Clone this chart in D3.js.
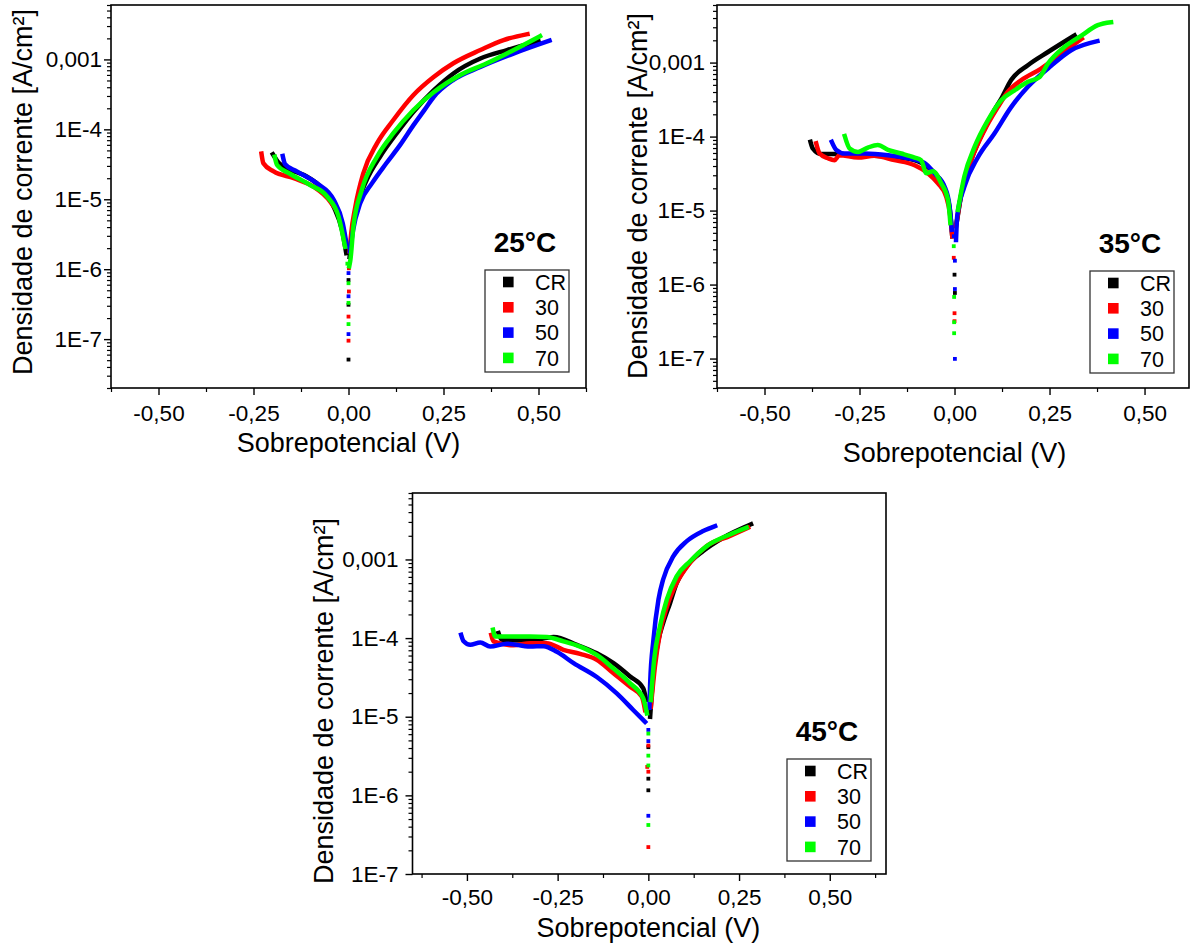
<!DOCTYPE html>
<html>
<head>
<meta charset="utf-8">
<script src="https://cdn.jsdelivr.net/npm/d3@7"></script>
<style>
  body { margin: 0; background: #fff; }
  svg { display: block; }
  text { font-family: "Liberation Sans", Arial, Helvetica, sans-serif; }
</style>
</head>
<body>
<script>
// series, colours and axis labels
const seriesNames = ["CR", "30", "50", "70"];
const seriesColors = ["#000000", "#ff0000", "#0000ff", "#00ff00"];
const temperatures = ["25°C", "35°C", "45°C"];
const xTickValues = [-0.5, -0.25, 0, 0.25, 0.5];
const xTickLabels = ["-0,50", "-0,25", "0,00", "0,25", "0,50"];
const xMinorValues = [-0.625, -0.375, -0.125, 0.125, 0.375, 0.625];
const yTickValues = [1e-3, 1e-4, 1e-5, 1e-6, 1e-7];
const yTickLabels = ["0,001", "1E-4", "1E-5", "1E-6", "1E-7"];

// 25°C : [sobrepotencial V, densidade A/cm2], one list per series (CR, 30, 50, 70)
const cath25 = [
  [[-0.199,4.4e-5],[-0.184,3.33e-5],[-0.153,2.65e-5],[-0.109,2.1e-5],[-0.074,1.51e-5],[-0.039,7.8e-6],[-0.017,3.6e-6],[-0.006,1.7e-6]],
  [[-0.229,4.5e-5],[-0.224,3.27e-5],[-0.197,2.5e-5],[-0.144,2.0e-5],[-0.092,1.51e-5],[-0.048,9.2e-6],[-0.017,4.5e-6],[-0.006,2.1e-6]],
  [[-0.173,4.16e-5],[-0.167,3.19e-5],[-0.136,2.5e-5],[-0.083,1.69e-5],[-0.039,9.8e-6],[-0.015,4.5e-6],[-0.004,2.1e-6]],
  [[-0.194,4.06e-5],[-0.188,3.09e-5],[-0.153,2.3e-5],[-0.101,1.6e-5],[-0.056,1.09e-5],[-0.026,5.6e-6],[-0.009,2.1e-6]]
];
const anod25 = [
  [[0.003,1.5e-6],[0.009,3.2e-6],[0.022,7.8e-6],[0.048,1.89e-5],[0.083,4.06e-5],[0.127,8.8e-5],[0.171,1.78e-4],[0.224,3.6e-4],[0.276,6.3e-4],[0.347,1.03e-3],[0.417,1.36e-3],[0.5,1.82e-3]],
  [[0.003,1.8e-6],[0.007,3.2e-6],[0.018,7.8e-6],[0.039,2.35e-5],[0.075,6.3e-5],[0.118,1.36e-4],[0.171,3.1e-4],[0.224,5.6e-4],[0.276,8.8e-4],[0.347,1.36e-3],[0.408,1.89e-3],[0.471,2.3e-3]],
  [[0.004,1.8e-6],[0.012,3.6e-6],[0.031,8.8e-6],[0.062,1.7e-5],[0.1,3.3e-5],[0.136,6.0e-5],[0.171,1.15e-4],[0.2,1.9e-4],[0.224,2.9e-4],[0.276,5.1e-4],[0.347,7.8e-4],[0.434,1.21e-3],[0.529,1.85e-3]],
  [[0.002,1.1e-6],[0.005,1.36e-6],[0.013,4.1e-6],[0.035,1.36e-5],[0.075,4.06e-5],[0.118,8.8e-5],[0.171,1.89e-4],[0.224,3.4e-4],[0.294,6.0e-4],[0.364,8.8e-4],[0.426,1.29e-3],[0.504,2.15e-3]]
];
const dots25 = [
  [[0,7e-7],[0,3.1e-7],[0,5.1e-8]],
  [[0.001,1.03e-6],[0.001,4.8e-7],[0,2.1e-7],[0,9.5e-8]],
  [[0,8.8e-7],[0,4.1e-7],[0,1.18e-7]],
  [[-0.003,1.2e-6],[0,6.3e-7],[0,3.3e-7],[0,1.64e-7]]
];

// 35°C
const cath35 = [
  [[-0.379,8.5e-5],[-0.373,6.9e-5],[-0.351,5.8e-5],[-0.316,5.8e-5],[-0.25,5.6e-5],[-0.18,5.4e-5],[-0.12,5.0e-5],[-0.08,4.2e-5],[-0.05,3.1e-5],[-0.025,1.9e-5],[-0.012,1.0e-5],[-0.006,4.5e-6]],
  [[-0.364,8.1e-5],[-0.355,5.9e-5],[-0.333,5.1e-5],[-0.316,4.8e-5],[-0.303,5.6e-5],[-0.254,5.2e-5],[-0.211,5.5e-5],[-0.158,4.8e-5],[-0.105,4.1e-5],[-0.07,3.2e-5],[-0.044,2.34e-5],[-0.022,1.55e-5],[-0.011,8.3e-6],[-0.006,4.5e-6]],
  [[-0.323,8.5e-5],[-0.311,6.6e-5],[-0.289,5.9e-5],[-0.237,5.9e-5],[-0.175,5.6e-5],[-0.123,5.1e-5],[-0.079,4.4e-5],[-0.053,3.2e-5],[-0.026,2.1e-5],[-0.013,1.13e-5],[-0.007,5.5e-6]],
  [[-0.289,1.02e-4],[-0.276,6.9e-5],[-0.254,6.2e-5],[-0.228,7.1e-5],[-0.202,7.7e-5],[-0.175,6.6e-5],[-0.14,5.9e-5],[-0.105,5.2e-5],[-0.088,4.8e-5],[-0.074,3.2e-5],[-0.057,3.4e-5],[-0.035,2.34e-5],[-0.017,1.39e-5],[-0.011,6.8e-6]]
];
const anod35 = [
  [[0.006,7e-6],[0.02,1.9e-5],[0.045,5e-5],[0.08,1.3e-4],[0.105,2.3e-4],[0.125,3.4e-4],[0.149,5.8e-4],[0.193,9.2e-4],[0.246,1.39e-3],[0.316,2.33e-3]],
  [[0.004,6.1e-6],[0.018,1.71e-5],[0.044,4.8e-5],[0.079,1.22e-4],[0.114,2.5e-4],[0.14,4.0e-4],[0.176,5.8e-4],[0.228,8.3e-4],[0.281,1.32e-3],[0.335,2.1e-3]],
  [[0.004,4e-6],[0.007,8.3e-6],[0.026,2.1e-5],[0.062,5.3e-5],[0.105,1.1e-4],[0.149,2.5e-4],[0.193,4.7e-4],[0.246,8.3e-4],[0.307,1.47e-3],[0.376,1.95e-3]],
  [[0.009,1.02e-5],[0.026,2.9e-5],[0.053,7.3e-5],[0.088,1.67e-4],[0.123,3.1e-4],[0.158,4.2e-4],[0.193,5.5e-4],[0.224,6.4e-4],[0.246,9.7e-4],[0.289,1.62e-3],[0.333,2.3e-3],[0.377,3.2e-3],[0.412,3.5e-3]]
];
const dots35 = [
  [[0,1.36e-6],[0.001,7.7e-7]],
  [[-0.002,2.3e-6],[0,4.1e-7],[0,3.2e-7]],
  [[-0.002,4.5e-6],[0.001,2.1e-6],[0.001,8.7e-7],[0.001,9.9e-8]],
  [[-0.002,3.3e-6],[-0.001,6.8e-7],[-0.001,3.1e-7],[-0.001,2.2e-7]]
];

// 45°C
const cath45 = [
  [[-0.413,1.16e-4],[-0.404,9.5e-5],[-0.326,9.3e-5],[-0.261,1.03e-4],[-0.197,8.2e-5],[-0.142,6.4e-5],[-0.096,4.8e-5],[-0.05,3.24e-5],[-0.014,2.3e-5],[-0.006,1.63e-5]],
  [[-0.433,1.1e-4],[-0.427,9.1e-5],[-0.372,8.1e-5],[-0.326,8.6e-5],[-0.28,8.6e-5],[-0.234,7.1e-5],[-0.188,6.3e-5],[-0.142,5.3e-5],[-0.096,3.57e-5],[-0.05,2.4e-5],[-0.018,1.8e-5],[-0.009,1.21e-5]],
  [[-0.516,1.1e-4],[-0.509,9.1e-5],[-0.491,8.2e-5],[-0.463,8.8e-5],[-0.436,7.8e-5],[-0.39,8.5e-5],[-0.326,7.8e-5],[-0.289,7.9e-5],[-0.252,6.7e-5],[-0.206,4.8e-5],[-0.142,3.2e-5],[-0.087,1.98e-5],[-0.041,1.21e-5],[-0.009,8.6e-6]],
  [[-0.428,1.28e-4],[-0.422,1.05e-4],[-0.372,1.05e-4],[-0.326,1.05e-4],[-0.28,1.03e-4],[-0.234,9.1e-5],[-0.188,7.8e-5],[-0.142,6.1e-5],[-0.096,4.1e-5],[-0.05,2.66e-5],[-0.014,1.71e-5],[-0.004,1.1e-5]]
];
const anod45 = [
  [[0.005,1e-5],[0.014,3.6e-5],[0.028,9.5e-5],[0.041,1.56e-4],[0.06,2.8e-4],[0.078,5.0e-4],[0.106,8.2e-4],[0.151,1.28e-3],[0.206,1.89e-3],[0.283,2.8e-3]],
  [[0.007,1.34e-5],[0.018,4.3e-5],[0.032,1.16e-4],[0.051,2.5e-4],[0.078,5.0e-4],[0.115,9.1e-4],[0.161,1.48e-3],[0.225,1.99e-3],[0.275,2.54e-3]],
  [[0.003,1.3e-5],[0.005,2.66e-5],[0.014,9.5e-5],[0.028,3.1e-4],[0.041,5.6e-4],[0.069,1.1e-3],[0.106,1.71e-3],[0.151,2.3e-3],[0.184,2.66e-3]],
  [[0.007,1.63e-5],[0.016,5.3e-5],[0.032,1.41e-4],[0.051,3.1e-4],[0.078,6.1e-4],[0.115,9.5e-4],[0.161,1.48e-3],[0.225,2.08e-3],[0.271,2.54e-3]]
];
const dots45 = [
  [[0,4.1e-6],[0,1.63e-6],[0,1.16e-6]],
  [[0,4.3e-6],[-0.003,2.3e-6],[0,2.0e-6],[0,2.2e-7]],
  [[0,6.8e-6],[0,4.9e-6],[0,5.5e-7]],
  [[0,6.1e-6],[0,3.2e-6],[0,2.4e-6],[0,4.2e-7]]
];

// layout of the three panels (pixels)
const panels = [
  { temp: temperatures[0], cath: cath25, anod: anod25, dots: dots25,
    left: 111, right: 586, top: 5, bottom: 388, xDom: [-0.625, 0.625], yDom: [2e-8, 6e-3],
    yLabelGap: 9, xLabelY: 421, xTitleY: 452, yTitleX: 32, yTitleY: 192, legX: 485, legY: 270 },
  { temp: temperatures[1], cath: cath35, anod: anod35, dots: dots35,
    left: 717, right: 1189, top: 5, bottom: 388, xDom: [-0.625, 0.617], yDom: [4e-8, 6e-3],
    yLabelGap: 12, xLabelY: 421, xTitleY: 462, yTitleX: 647, yTitleY: 196, legX: 1090, legY: 271 },
  { temp: temperatures[2], cath: cath45, anod: anod45, dots: dots45,
    left: 412.5, right: 886, top: 493, bottom: 874, xDom: [-0.65, 0.655], yDom: [1e-7, 7e-3],
    yLabelGap: 14, xLabelY: 905, xTitleY: 937, yTitleX: 333, yTitleY: 701, legX: 787, legY: 759 }
];

const svg = d3.select("body").append("svg")
  .attr("width", 1190)
  .attr("height", 943);

panels.forEach((p, pi) => {
  const x = d3.scaleLinear().domain(p.xDom).range([p.left, p.right]);
  const y = d3.scaleLog().domain(p.yDom).range([p.bottom, p.top]);
  const g = svg.append("g");

  // clip
  const clipId = "clip" + pi;
  svg.append("clipPath").attr("id", clipId)
    .append("rect")
    .attr("x", p.left).attr("y", p.top)
    .attr("width", p.right - p.left).attr("height", p.bottom - p.top);

  // minor ticks on y (2..9 of every decade)
  const yMinor = [];
  for (let k = Math.floor(Math.log10(p.yDom[0])); k <= Math.ceil(Math.log10(p.yDom[1])); k++) {
    for (let m = 2; m <= 9; m++) {
      const v = m * Math.pow(10, k);
      if (v >= p.yDom[0] * 0.999 && v <= p.yDom[1] * 1.001) yMinor.push(v);
    }
  }

  g.append("g")
    .attr("transform", `translate(${p.left},0)`)
    .call(d3.axisLeft(y).tickValues(yMinor).tickSize(4).tickFormat(""))
    .call(a => a.select(".domain").remove())
    .call(a => a.selectAll("line").attr("stroke", "#000").attr("stroke-width", 1.2));

  const yAx = g.append("g")
    .attr("transform", `translate(${p.left},0)`)
    .call(d3.axisLeft(y).tickValues(yTickValues).tickSize(7)
      .tickFormat((d, i) => yTickLabels[i]))
    .call(a => a.select(".domain").remove());
  yAx.selectAll("line").attr("stroke", "#000").attr("stroke-width", 1.4);
  yAx.selectAll("text")
    .attr("x", -p.yLabelGap)
    .attr("font-size", 22.5)
    .attr("font-family", "Liberation Sans, Arial, sans-serif")
    .attr("fill", "#000");

  g.append("g")
    .attr("transform", `translate(0,${p.bottom})`)
    .call(d3.axisBottom(x).tickValues(xMinorValues.filter(v => v >= p.xDom[0] && v <= p.xDom[1]))
      .tickSize(4).tickFormat(""))
    .call(a => a.select(".domain").remove())
    .call(a => a.selectAll("line").attr("stroke", "#000").attr("stroke-width", 1.2));

  const xAx = g.append("g")
    .attr("transform", `translate(0,${p.bottom})`)
    .call(d3.axisBottom(x).tickValues(xTickValues).tickSize(7)
      .tickFormat((d, i) => xTickLabels[i]))
    .call(a => a.select(".domain").remove());
  xAx.selectAll("line").attr("stroke", "#000").attr("stroke-width", 1.4);
  xAx.selectAll("text")
    .attr("y", p.xLabelY - p.bottom)
    .attr("dy", 0)
    .attr("font-size", 22.5)
    .attr("font-family", "Liberation Sans, Arial, sans-serif")
    .attr("fill", "#000");

  // frame
  g.append("rect")
    .attr("x", p.left).attr("y", p.top)
    .attr("width", p.right - p.left).attr("height", p.bottom - p.top)
    .attr("fill", "none").attr("stroke", "#000").attr("stroke-width", 1.6);

  // curves
  const line = d3.line()
    .x(d => x(d[0]))
    .y(d => y(d[1]))
    .curve(d3.curveMonotoneX);

  const marks = g.append("g").attr("clip-path", `url(#${clipId})`);
  seriesNames.forEach((name, i) => {
    [p.cath[i], p.anod[i]].forEach(branch => {
      marks.append("path")
        .datum(branch)
        .attr("d", line)
        .attr("fill", "none")
        .attr("stroke", seriesColors[i])
        .attr("stroke-width", 4.5)
        .attr("stroke-linejoin", "round")
        .attr("stroke-linecap", "square");
    });
    marks.selectAll(null)
      .data(p.dots[i])
      .join("rect")
      .attr("x", d => x(d[0]) - 1.9)
      .attr("y", d => y(d[1]) - 1.9)
      .attr("width", 3.8)
      .attr("height", 3.8)
      .attr("fill", seriesColors[i]);
  });

  // axis titles
  g.append("text")
    .attr("x", x(0))
    .attr("y", p.xTitleY)
    .attr("text-anchor", "middle")
    .attr("font-size", 27)
    .attr("fill", "#000")
    .text("Sobrepotencial (V)");

  g.append("text")
    .attr("transform", `translate(${p.yTitleX},${p.yTitleY}) rotate(-90)`)
    .attr("text-anchor", "middle")
    .attr("font-size", 27)
    .attr("fill", "#000")
    .text("Densidade de corrente [A/cm²]");

  // temperature label
  g.append("text")
    .attr("x", p.legX + 40)
    .attr("y", p.legY - 18)
    .attr("text-anchor", "middle")
    .attr("font-size", 28)
    .attr("font-weight", "bold")
    .attr("fill", "#000")
    .text(p.temp);

  // legend
  const leg = g.append("g").attr("transform", `translate(${p.legX},${p.legY})`);
  leg.append("rect")
    .attr("width", 84).attr("height", 102)
    .attr("fill", "#fff").attr("stroke", "#333").attr("stroke-width", 1.3);
  seriesNames.forEach((name, i) => {
    const ry = 12 + i * 25.3;
    leg.append("rect")
      .attr("x", 18).attr("y", ry - 5.3)
      .attr("width", 10.6).attr("height", 10.6)
      .attr("fill", seriesColors[i]);
    leg.append("text")
      .attr("x", 50).attr("y", ry)
      .attr("dy", "0.36em")
      .attr("font-size", 21.5)
      .attr("fill", "#000")
      .text(name);
  });
});
</script>
</body>
</html>
